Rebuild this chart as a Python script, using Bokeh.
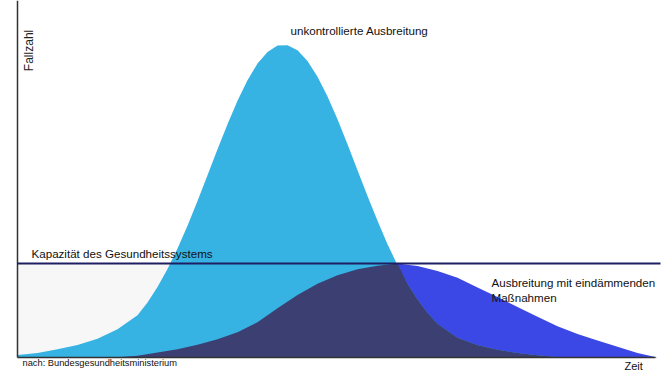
from bokeh.plotting import figure
from bokeh.models import Range1d
from bokeh.core.properties import value
from bokeh.embed import file_html
from bokeh.resources import INLINE
import math

# --- data (time in arbitrary units, cases in % of uncontrolled peak) ---
tall_t = [0, 1, 2, 3, 4, 5, 6, 6.5, 7, 7.5, 8, 8.5, 9, 9.5, 10, 10.5, 11, 11.5, 12, 12.5,
          13, 13.5, 14, 14.5, 15, 15.5, 16, 16.5, 17, 17.5, 18, 18.5, 19, 19.5, 20, 20.5,
          21, 22, 23, 24, 25, 26, 27, 28, 29, 30, 31, 32]
tall_cases = [0.8, 1.4, 2.6, 4.0, 6.0, 9.0, 13.5, 17.6, 22.5, 28.3, 34.8, 42.1, 50.0, 58.2,
              66.5, 74.5, 82.0, 88.6, 93.9, 97.6, 99.7, 99.8, 98.2, 94.7, 89.7, 83.4, 76.1,
              68.1, 59.8, 51.6, 43.7, 36.2, 29.5, 23.6, 18.5, 14.3, 10.8, 6.3, 4.0, 2.5,
              1.4, 0.7, 0.2, 0, 0, 0, 0, 0]

flat_t = list(range(0, 33))
flat_cases = [0, 0, 0, 0, 0, 0.1, 0.6, 1.6, 2.6, 4.1, 5.8, 8.1, 11.3, 15.7, 20.0, 23.6,
              26.3, 28.2, 29.3, 30.0, 29.2, 27.6, 25.5, 22.4, 19.3, 16.1, 13.0, 10.0, 7.5,
              5.4, 3.4, 1.4, 0]

capacity = 30.0
cross_t = 19

labels = {
    "y": "Fallzahl",
    "x": "Zeit",
    "tall": "unkontrollierte Ausbreitung",
    "cap": "Kapazität des Gesundheitssystems",
    "flat1": "Ausbreitung mit eindämmenden",
    "flat2": "Maßnahmen",
    "src": "nach: Bundesgesundheitsministerium",
}

# navy region = overlap of both curves
navy_t = [t for t in flat_t if t <= cross_t] + [t for t in tall_t if t > cross_t]
navy_c = [c for t, c in zip(flat_t, flat_cases) if t <= cross_t] + \
         [c for t, c in zip(tall_t, tall_cases) if t > cross_t]

p = figure(width=667, height=373, output_backend="svg", toolbar_location=None,
           x_range=Range1d(-0.85, 32.5), y_range=Range1d(-5.11, 114.06),
           min_border=0)
p.axis.visible = False
p.grid.visible = False
p.outline_line_color = None
p.background_fill_color = "white"

FONT = value("Liberation Sans")

# light grey area below capacity
p.quad(left=0, right=10, bottom=0, top=capacity, fill_color="#f7f7f7", line_color=None)

# flattened curve (bright blue), uncontrolled curve (light blue), overlap (navy)
p.varea(x=flat_t, y1=[0] * len(flat_t), y2=flat_cases, fill_color="#3c48e6")
p.varea(x=tall_t, y1=[0] * len(tall_t), y2=tall_cases, fill_color="#36b2e3")
p.varea(x=navy_t, y1=[0] * len(navy_t), y2=navy_c, fill_color="#3c3f72")

# axes
p.segment(x0=0, y0=0, x1=0, y1=114.06, line_color="#333333", line_width=1.5)
p.segment(x0=0, y0=0, x1=31.9, y1=0, line_color="#333333", line_width=1.5)
# capacity line
p.segment(x0=0, y0=capacity, x1=32.15, y1=capacity, line_color="#1e1e62", line_width=2)

# texts
p.text(x=[0.55], y=[98.1], text=[labels["y"]], angle=math.pi / 2, text_font=FONT,
       text_font_size="12px", text_align="center", text_baseline="middle", text_color="#222222")
p.text(x=[13.65], y=[104.5], text=[labels["tall"]], text_font=FONT, text_font_size="11.6px",
       text_align="left", text_baseline="middle", text_color="#111111")
p.text(x=[0.7], y=[33.2], text=[labels["cap"]], text_font=FONT, text_font_size="11.6px",
       text_align="left", text_baseline="middle", text_color="#111111")
p.text(x=[23.7, 23.7], y=[24.0, 19.2], text=[labels["flat1"], labels["flat2"]], text_font=FONT,
       text_font_size="11.6px", text_align="left", text_baseline="middle", text_color="#111111")
p.text(x=[0.25], y=[-1.6], text=[labels["src"]], text_font=FONT, text_font_size="9.3px",
       text_align="left", text_baseline="middle", text_color="#111111")
p.text(x=[30.35], y=[-2.56], text=[labels["x"]], text_font=FONT, text_font_size="11px",
       text_align="left", text_baseline="middle", text_color="#111111")

open("out.html", "w").write(file_html(p, INLINE))
